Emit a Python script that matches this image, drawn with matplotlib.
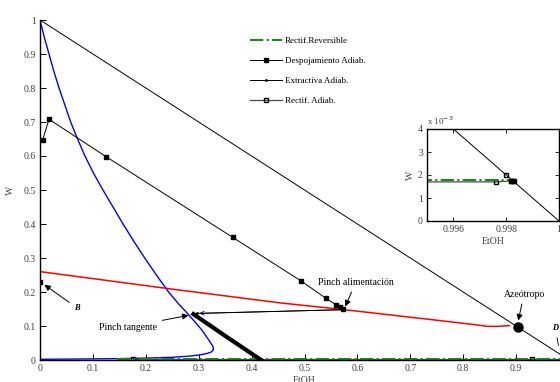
import numpy as np
import matplotlib.pyplot as plt

plt.rcParams['font.family'] = ['Liberation Serif', 'DejaVu Serif']
plt.rcParams['font.size'] = 7

## DATA (EtOH, W)

# triangle edge x + w = 1
diag_x = [0.0, 1.0]
diag_w = [1.0, 0.0]

# blue curve
blue_x = [0.0, 0.008, 0.017, 0.026, 0.036, 0.047, 0.058, 0.071, 0.085, 0.101,
          0.119, 0.138, 0.157, 0.177, 0.198, 0.220, 0.243, 0.262, 0.280, 0.294,
          0.306, 0.315, 0.322, 0.326, 0.328, 0.327, 0.323, 0.315, 0.302, 0.280,
          0.250, 0.210, 0.150, 0.080, 0.0]
blue_w = [1.0, 0.95, 0.9, 0.85, 0.8, 0.75, 0.7, 0.65, 0.6, 0.55,
          0.5, 0.45, 0.4, 0.35, 0.3, 0.25, 0.2, 0.165, 0.135, 0.11,
          0.088, 0.068, 0.052, 0.042, 0.034, 0.028, 0.023, 0.019, 0.015, 0.011,
          0.008, 0.006, 0.004, 0.003, 0.002]

# red curve
red_x = [0.0, 0.0, 0.252, 0.454, 0.575, 0.75, 0.832, 0.845, 0.865, 0.887]
red_w = [0.23, 0.26, 0.208, 0.168, 0.148, 0.117, 0.102, 0.099, 0.099, 0.101]

# Despojamiento Adiab.
desp_x = [0.005, 0.017, 0.125, 0.364, 0.493, 0.541, 0.560, 0.568, 0.573]
desp_w = [0.647, 0.708, 0.598, 0.361, 0.233, 0.181, 0.162, 0.155, 0.150]

# Extractiva Adiab. (thick part down to the base, thin part to the feed pinch)
extr_thick_x = [0.418, 0.35, 0.29]
extr_thick_w = [0.0, 0.071, 0.135]
extr_x = [0.575, 0.296]
extr_w = [0.148, 0.137]

# Rectif. Adiab.
rect_x = [0.175, 0.93, 0.9976, 0.9982]
rect_w = [0.0017, 0.0017, 0.0017, 0.00174]

# Rectif.Reversible
rev_x = [0.145, 0.9981]
rev_w = [0.00179, 0.00179]

# special points
azeo = (0.904, 0.096)
b_pt = (0.0, 0.23)
d_x = [0.99818, 0.99824, 0.99828]
d_w = [0.00176, 0.00175, 0.00173]
d_open = (0.9980, 0.0020)

fig = plt.figure(figsize=(5.6, 3.82), dpi=100)
ax = fig.add_axes([40/560, 22/382, 529/560, 340/382])

ax.plot(diag_x, diag_w, color='k', lw=0.7)
ax.plot(blue_x, blue_w, color='b', lw=1.0)
ax.plot(red_x, red_w, color='r', lw=1.1)
l_rect, = ax.plot(rect_x, rect_w, color='0.3', lw=0.9, marker='s', ms=3,
                  mfc='none', mec='k', label='Rectif. Adiab.')
l_rev, = ax.plot(rev_x, rev_w, color='#1a8a1a', lw=1.5, ls='-.',
                 label='Rectif.Reversible')
l_desp, = ax.plot(desp_x, desp_w, color='k', lw=0.7, marker='s', ms=2.6,
                  label='Despojamiento Adiab.')
ax.plot(extr_thick_x, extr_thick_w, color='k', lw=3)
l_extr, = ax.plot(extr_x, extr_w, color='k', lw=0.7, marker='.', ms=2,
                  label='Extractiva Adiab.')
ax.plot(*azeo, 'ko', ms=6.5)
ax.plot(*b_pt, 'ks', ms=2.6)

arrow = dict(arrowstyle='-|>', color='k', lw=0.7, mutation_scale=9)
ax.annotate('', xy=(0.296, 0.137), xytext=(0.575, 0.148),
            arrowprops=dict(arrowstyle='->', color='k', lw=0.6))
ax.annotate('Pinch alimentación', xy=(0.575, 0.150), xytext=(0.597, 0.229),
            ha='center', va='center', arrowprops=arrow)
ax.annotate('Pinch tangente', xy=(0.286, 0.133), xytext=(0.166, 0.097),
            ha='center', va='center', arrowprops=arrow)
ax.annotate('Azeótropo', xy=(0.903, 0.108), xytext=(0.915, 0.194),
            ha='center', va='center', arrowprops=arrow)
ax.annotate('B', xy=(0.004, 0.226), xytext=(0.070, 0.153), ha='center',
            va='center', fontweight='bold', style='italic', fontsize=6,
            arrowprops=arrow)
ax.annotate('D', xy=(0.981, 0.035), xytext=(0.974, 0.094), ha='center',
            va='center', fontweight='bold', style='italic', fontsize=6,
            arrowprops=dict(arrowstyle='-', color='k', lw=0.6))

ax.set_xlim(0, 1)
ax.set_ylim(0, 1)
ax.set_xticks(np.arange(0, 1.01, 0.1))
ax.set_xticklabels(['0', '0.1', '0.2', '0.3', '0.4', '0.5', '0.6', '0.7',
                    '0.8', '0.9', '1'])
ax.set_yticks(np.arange(0, 1.01, 0.1))
ax.set_yticklabels(['0', '0.1', '0.2', '0.3', '0.4', '0.5', '0.6', '0.7',
                    '0.8', '0.9', '1'])
ax.tick_params(direction='in', length=4, width=0.7, pad=3, colors='k',
               labelcolor='0.25')
ax.spines['top'].set_visible(False)
ax.spines['right'].set_visible(False)
ax.spines['left'].set_linewidth(1.0)
ax.spines['bottom'].set_linewidth(1.0)
ax.set_xlabel('EtOH', color='0.25', labelpad=2)
ax.set_ylabel('W', color='0.25', labelpad=6)

fig.legend(handles=[l_rev, l_desp, l_extr, l_rect], loc='upper left',
           bbox_to_anchor=(250/560, 1 - 37/382), frameon=False,
           borderpad=0, borderaxespad=0, handlelength=3.5, handletextpad=0.4,
           labelspacing=1.3, fontsize=6.5)

# inset zoom near pure EtOH
ins = fig.add_axes([427/560, (382-221)/382, 132/560, 92/382])
ins.plot(diag_x, diag_w, color='k', lw=0.7)
ins.plot(rect_x, rect_w, color='0.3', lw=0.9, marker='s', ms=3,
         mfc='none', mec='k')
ins.plot(rev_x, rev_w, color='#1a8a1a', lw=1.5, ls='-.')
ins.plot(d_x, d_w, 'ks', ms=3)
ins.plot(*d_open, marker='s', ms=3, mfc='none', mec='k')
ins.set_xlim(0.995, 1.0)
ins.set_ylim(0, 0.004)
ins.set_xticks([0.996, 0.998, 1.0])
ins.set_xticklabels(['0.996', '0.998', '1'])
ins.set_yticks([0, 0.001, 0.002, 0.003, 0.004])
ins.set_yticklabels(['0', '1', '2', '3', '4'])
ins.tick_params(direction='in', length=3, width=0.6, pad=3, top=True,
                right=True, labelcolor='0.25')
for s in ins.spines.values():
    s.set_linewidth(1.0)
ins.set_xlabel('EtOH', color='0.25', labelpad=2)
ins.set_ylabel('W', color='0.25', labelpad=2)
ins.text(0, 1.02, r'x 10$^{-3}$', transform=ins.transAxes, color='0.25',
         ha='left', va='bottom', fontsize=6.5)

fig.savefig('out.png', dpi=100)
